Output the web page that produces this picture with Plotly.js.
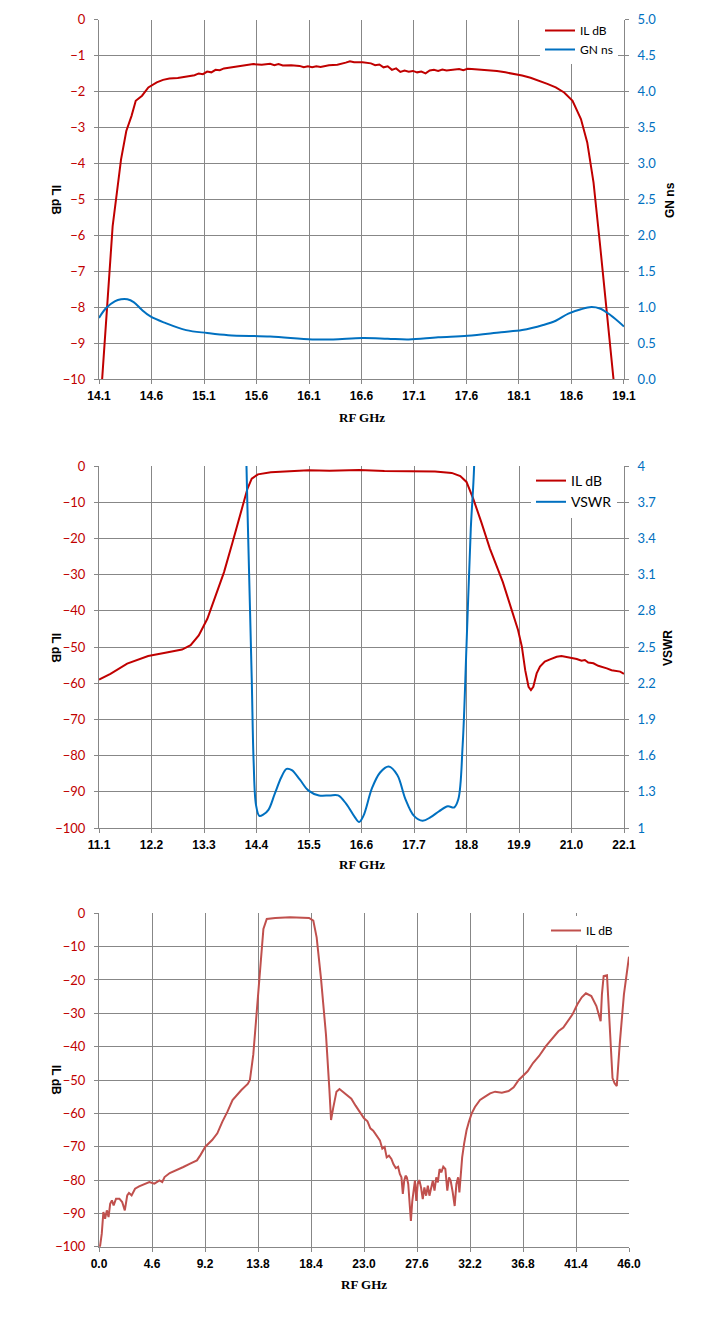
<!DOCTYPE html>
<html>
<head>
<meta charset="utf-8">
<script src="https://cdn.plot.ly/plotly-3.0.1.min.js"></script>
<style>
  html, body { margin: 0; padding: 0; background: #fff; }
  #chart { width: 718px; height: 1332px; }
</style>
</head>
<body>
<div id="chart"></div>
<script>
// chart 1: passband, IL and group delay
const bandGHz = [14.13, 14.19, 14.23, 14.27, 14.31, 14.36, 14.41, 14.45, 14.51, 14.57, 14.65, 14.71, 14.77, 14.85, 14.93, 15.01, 15.05, 15.09, 15.13, 15.17, 15.21, 15.25, 15.29, 15.33, 15.41, 15.49, 15.57, 15.65, 15.73, 15.77, 15.81, 15.85, 15.93, 16.01, 16.05, 16.09, 16.13, 16.17, 16.21, 16.29, 16.37, 16.45, 16.49, 16.53, 16.61, 16.69, 16.73, 16.77, 16.81, 16.85, 16.89, 16.93, 16.97, 17.01, 17.05, 17.09, 17.13, 17.17, 17.21, 17.25, 17.29, 17.33, 17.37, 17.41, 17.45, 17.53, 17.57, 17.61, 17.65, 17.73, 17.81, 17.89, 17.97, 18.05, 18.13, 18.21, 18.29, 18.37, 18.45, 18.53, 18.61, 18.69, 18.75, 18.81, 18.87, 18.93, 19.0];
const bandIL = [-10, -7.33, -5.75, -4.82, -3.89, -3.1, -2.68, -2.26, -2.12, -1.89, -1.75, -1.68, -1.64, -1.63, -1.58, -1.55, -1.5, -1.52, -1.45, -1.47, -1.4, -1.41, -1.36, -1.34, -1.31, -1.28, -1.24, -1.26, -1.23, -1.27, -1.24, -1.28, -1.27, -1.29, -1.33, -1.3, -1.33, -1.3, -1.32, -1.27, -1.26, -1.2, -1.16, -1.19, -1.19, -1.22, -1.27, -1.25, -1.33, -1.3, -1.4, -1.36, -1.46, -1.42, -1.45, -1.43, -1.47, -1.45, -1.5, -1.42, -1.4, -1.43, -1.39, -1.42, -1.4, -1.38, -1.41, -1.37, -1.38, -1.39, -1.4, -1.43, -1.47, -1.51, -1.56, -1.62, -1.7, -1.79, -1.89, -2.03, -2.26, -2.77, -3.42, -4.54, -6.21, -7.98, -10];
const delayGHz = [14.1, 14.17, 14.25, 14.31, 14.37, 14.43, 14.51, 14.59, 14.73, 14.93, 15.13, 15.33, 15.73, 16.13, 16.33, 16.61, 16.85, 17.05, 17.33, 17.61, 17.93, 18.13, 18.33, 18.45, 18.57, 18.69, 18.79, 18.87, 18.97, 19.1];
const delayNs = [0.85, 0.99, 1.08, 1.11, 1.11, 1.07, 0.96, 0.87, 0.78, 0.68, 0.64, 0.61, 0.59, 0.55, 0.55, 0.57, 0.56, 0.55, 0.58, 0.6, 0.65, 0.68, 0.75, 0.81, 0.91, 0.97, 1.0, 0.98, 0.89, 0.73];

// chart 2: wider span, IL and VSWR
const wideGHz = [11.1, 11.34, 11.69, 12.13, 12.49, 12.84, 13.02, 13.19, 13.37, 13.55, 13.72, 13.9, 14.08, 14.21, 14.3, 14.43, 14.7, 15.14, 15.49, 15.93, 16.55, 17.08, 17.7, 18.14, 18.49, 18.67, 18.8, 18.94, 19.11, 19.29, 19.56, 19.73, 19.88, 19.96, 20.03, 20.1, 20.15, 20.2, 20.27, 20.34, 20.44, 20.55, 20.69, 20.79, 20.9, 21.0, 21.11, 21.21, 21.28, 21.35, 21.46, 21.56, 21.63, 21.74, 21.84, 21.95, 22.02, 22.1];
const wideIL = [-59.0, -57.4, -54.6, -52.5, -51.6, -50.7, -49.5, -46.8, -42.2, -35.7, -29.3, -21.0, -12.2, -6.3, -3.5, -2.3, -1.7, -1.4, -1.2, -1.3, -1.1, -1.4, -1.4, -1.5, -1.9, -2.8, -4.4, -9.0, -15.5, -22.8, -32.0, -39.4, -45.3, -49.9, -56.4, -61.0, -61.9, -61.0, -57.3, -55.4, -54.0, -53.4, -52.7, -52.5, -52.8, -53.1, -53.3, -53.8, -53.6, -54.3, -54.5, -55.2, -55.4, -55.9, -56.4, -56.6, -56.8, -57.4];
const vswrGHz = [14.12, 14.19, 14.23, 14.3, 14.34, 14.39, 14.46, 14.54, 14.65, 14.78, 14.92, 15.03, 15.14, 15.31, 15.49, 15.71, 15.93, 16.11, 16.28, 16.46, 16.55, 16.64, 16.82, 16.99, 17.17, 17.35, 17.52, 17.7, 17.88, 18.05, 18.23, 18.41, 18.54, 18.63, 18.72, 18.8, 18.89, 18.96, 19.02];
const vswr = [5.5, 4.0, 3.34, 2.24, 1.55, 1.19, 1.1, 1.11, 1.15, 1.28, 1.42, 1.49, 1.48, 1.4, 1.31, 1.27, 1.27, 1.27, 1.2, 1.09, 1.05, 1.1, 1.33, 1.46, 1.51, 1.44, 1.24, 1.1, 1.06, 1.09, 1.14, 1.18, 1.17, 1.24, 1.69, 2.51, 3.48, 4.0, 5.5];

// chart 3: 0 to 46 GHz sweep
const fullGHz = [0.0, 0.09, 0.24, 0.38, 0.53, 0.68, 0.83, 0.97, 1.12, 1.27, 1.48, 1.77, 2.01, 2.24, 2.45, 2.6, 2.83, 3.13, 3.48, 3.92, 4.37, 4.81, 5.25, 5.49, 5.69, 6.14, 6.73, 7.32, 7.91, 8.5, 8.79, 9.23, 9.82, 10.27, 10.71, 11.15, 11.59, 12.36, 12.91, 13.1, 13.39, 13.65, 14.01, 14.27, 14.56, 15.3, 16.58, 18.23, 18.6, 18.89, 19.26, 19.7, 19.99, 20.14, 20.32, 20.61, 20.87, 21.53, 21.9, 22.27, 22.6, 23.0, 23.3, 23.55, 23.8, 24.15, 24.38, 24.59, 24.79, 24.97, 25.17, 25.38, 25.55, 25.76, 25.96, 26.11, 26.25, 26.37, 26.49, 26.61, 26.72, 26.84, 26.96, 27.07, 27.19, 27.31, 27.42, 27.54, 27.66, 27.8, 27.95, 28.1, 28.24, 28.39, 28.54, 28.68, 28.83, 28.97, 29.12, 29.27, 29.41, 29.56, 29.71, 29.88, 30.06, 30.23, 30.38, 30.52, 30.7, 30.87, 31.02, 31.17, 31.28, 31.4, 31.52, 31.69, 31.9, 32.1, 32.34, 32.63, 33.07, 33.51, 33.95, 34.38, 34.97, 35.55, 35.99, 36.43, 37.2, 37.67, 38.2, 38.77, 39.3, 39.87, 40.3, 40.79, 41.1, 41.52, 41.9, 42.26, 42.73, 43.17, 43.54, 43.65, 43.8, 44.09, 44.28, 44.57, 44.75, 44.94, 45.19, 45.56, 46.0];
const fullIL = [-100, -99.9, -96.1, -89.6, -91.6, -89.1, -91.1, -87.1, -86.1, -87.6, -85.6, -85.6, -86.6, -89.1, -84.6, -83.9, -84.6, -82.6, -81.9, -81.3, -80.6, -81.1, -80.1, -80.6, -79.1, -77.9, -77.1, -76.1, -75.1, -74.1, -72.6, -70.0, -68.0, -66.0, -62.5, -59.5, -56.0, -53.0, -51.2, -50.0, -42.4, -30.4, -14.3, -4.7, -1.7, -1.4, -1.2, -1.4, -2.2, -7.2, -19.3, -36.4, -52.5, -62.0, -58.5, -53.5, -52.7, -54.5, -55.6, -57.7, -59.4, -61.5, -62.4, -64.5, -65.2, -67.1, -68.1, -70.6, -70.1, -73.2, -72.7, -73.7, -75.2, -76.4, -76.0, -78.2, -79.2, -84.2, -80.2, -78.7, -79.2, -81.2, -86.8, -92.3, -86.3, -82.2, -80.2, -86.3, -81.2, -80.0, -82.2, -85.7, -82.2, -84.7, -81.7, -84.7, -82.2, -80.2, -83.2, -79.2, -80.7, -76.7, -77.7, -76.0, -76.7, -83.2, -79.2, -80.2, -83.7, -87.8, -81.2, -79.2, -83.7, -77.2, -73.2, -69.1, -65.1, -62.6, -60.1, -58.1, -56.0, -55.0, -54.0, -53.5, -53.8, -53.3, -52.2, -50.0, -47.4, -44.9, -42.8, -39.9, -37.8, -35.4, -34.3, -31.9, -30.3, -27.3, -25.2, -24.0, -24.8, -27.8, -32.4, -24.3, -18.8, -18.6, -30.4, -49.4, -51.0, -51.8, -39.4, -24.3, -13.0];

const RED = '#C00000';
const BLUE = '#0070C0';
const GRID = '#878787';
const px = v => v / 718;
const py = v => 1 - v / 1332;

const tickBottom = { family: 'Liberation Sans', size: 12, color: '#000', weight: 'bold' };
const tickLeft = { family: 'Lato', size: 13, color: RED };
const tickRight = { family: 'Lato', size: 13, color: BLUE };

function xAxis(range, dtick, dom, anchor) {
  return {
    domain: dom, range: range, tick0: range[0], dtick: dtick, tickformat: '.1f',
    showgrid: true, gridcolor: GRID, gridwidth: 1, showline: true, linecolor: GRID,
    ticks: 'outside', ticklen: 4, tickcolor: GRID, tickfont: tickBottom,
    ticklabelstandoff: 2, zeroline: false, anchor: anchor, fixedrange: true
  };
}
function yLeft(range, dtick, dom, anchor) {
  return {
    domain: dom, range: range, dtick: dtick, showgrid: true, gridcolor: GRID,
    showline: true, linecolor: GRID, ticks: 'outside', ticklen: 4, tickcolor: GRID,
    tickfont: tickLeft, ticklabelstandoff: 6, zeroline: false, anchor: anchor
  };
}
function yRight(range, dtick, fmt, over, anchor) {
  return {
    range: range, dtick: dtick, tick0: range[0], tickformat: fmt, overlaying: over,
    side: 'right', anchor: anchor, showgrid: false, showline: true, linecolor: GRID,
    ticks: 'outside', ticklen: 4, tickcolor: GRID, tickfont: tickRight,
    ticklabelstandoff: 6, zeroline: false
  };
}

const traces = [
  { x: bandGHz, y: bandIL, name: 'IL dB', type: 'scatter', mode: 'lines', line: { color: RED, width: 2 }, xaxis: 'x', yaxis: 'y', legend: 'legend' },
  { x: delayGHz, y: delayNs, name: 'GN ns', type: 'scatter', mode: 'lines', line: { color: BLUE, width: 2, shape: 'spline' }, xaxis: 'x', yaxis: 'y2', legend: 'legend' },
  { x: wideGHz, y: wideIL, name: 'IL dB', type: 'scatter', mode: 'lines', line: { color: RED, width: 2 }, xaxis: 'x2', yaxis: 'y3', legend: 'legend2' },
  { x: vswrGHz, y: vswr, name: 'VSWR', type: 'scatter', mode: 'lines', line: { color: BLUE, width: 2, shape: 'spline' }, xaxis: 'x2', yaxis: 'y4', legend: 'legend2' },
  { x: fullGHz, y: fullIL, name: 'IL dB', type: 'scatter', mode: 'lines', line: { color: '#C0504D', width: 2 }, xaxis: 'x3', yaxis: 'y5', legend: 'legend3' }
];

const legendBase = {
  bgcolor: '#fff', borderwidth: 0, font: { family: 'Lato', size: 12, color: '#000' },
  xanchor: 'left', yanchor: 'top', tracegroupgap: 0, itemwidth: 30
};

const axTitle = (text, x, y, kind) => ({
  text: text, xref: 'paper', yref: 'paper', x: px(x), y: py(y), showarrow: false,
  textangle: kind === 'x' ? 0 : (kind === 'left' ? 90 : -90), xanchor: 'center', yanchor: 'middle',
  font: kind === 'x' ? { family: 'Liberation Serif', size: 13, color: '#000', weight: 'bold' }
                     : { family: 'Liberation Sans', size: 12, color: '#000', weight: 'bold' }
});

const layout = {
  width: 718, height: 1332, margin: { l: 0, r: 0, t: 0, b: 0 },
  paper_bgcolor: '#fff', plot_bgcolor: '#fff', showlegend: true,
  xaxis: xAxis([14.1, 19.1001], 0.5, [px(99), px(624)], 'y'),
  yaxis: yLeft([-10.0001, 0.0001], 1, [py(379), py(19.5)], 'x'),
  yaxis2: yRight([0, 5.0001], 0.5, '.1f', 'y', 'x'),
  xaxis2: xAxis([11.1, 22.1001], 1.1, [px(99), px(624)], 'y3'),
  yaxis3: yLeft([-100.001, 0.001], 10, [py(828), py(466)], 'x2'),
  yaxis4: yRight([1, 4.0001], 0.3, '', 'y3', 'x2'),
  xaxis3: xAxis([0, 46.0001], 4.6, [px(99), px(629)], 'y5'),
  yaxis5: yLeft([-100.001, 0.001], 10, [py(1246.7), py(913.3)], 'x3'),
  legend: Object.assign({}, legendBase, { x: px(540), y: py(16) }),
  legend2: Object.assign({}, legendBase, { x: px(531), y: py(465), font: { family: 'Lato', size: 14, color: '#000' } }),
  legend3: Object.assign({}, legendBase, { x: px(546), y: py(916) }),
  annotations: [
    axTitle('IL dB', 56, 200, 'left'), axTitle('GN ns', 670, 200, 'right'), axTitle('RF GHz', 362, 417, 'x'),
    axTitle('IL dB', 56, 648, 'left'), axTitle('VSWR', 668, 648, 'right'), axTitle('RF GHz', 362, 864, 'x'),
    axTitle('IL dB', 56, 1080, 'left'), axTitle('RF GHz', 364, 1284, 'x')
  ]
};

Plotly.newPlot('chart', traces, layout, { displayModeBar: false, staticPlot: true });
</script>
</body>
</html>
